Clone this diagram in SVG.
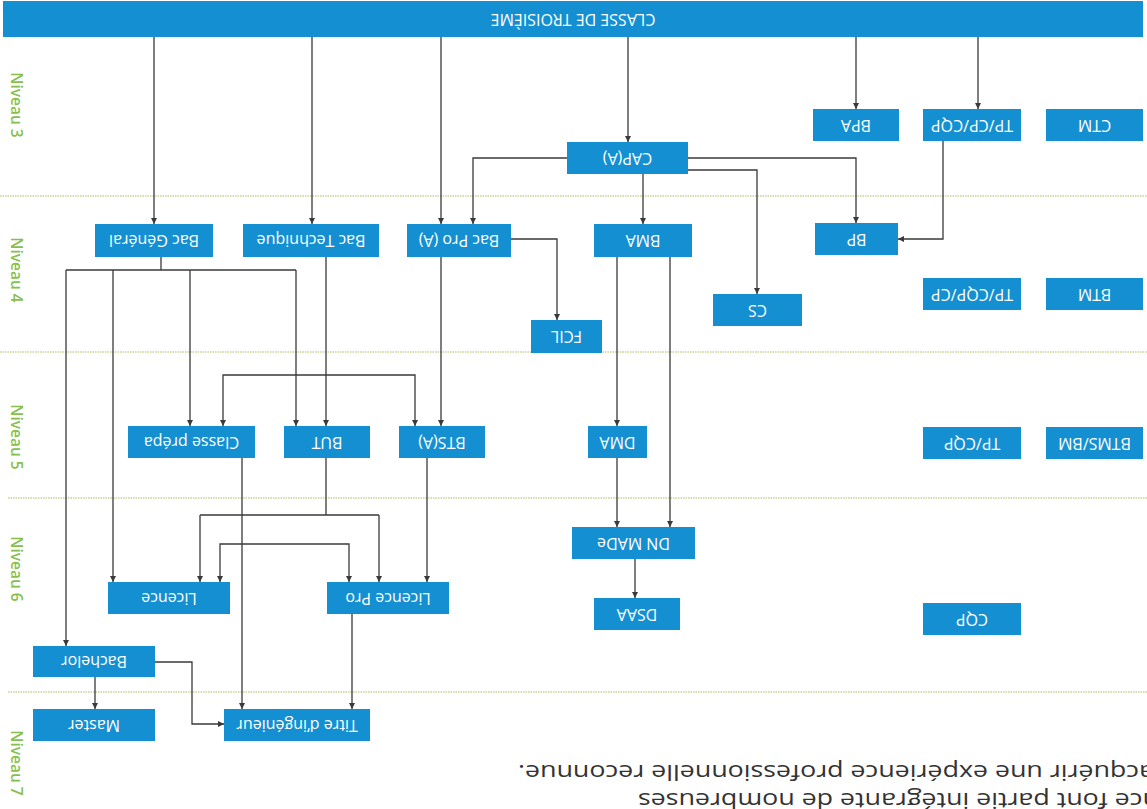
<svg xmlns="http://www.w3.org/2000/svg" width="1147" height="809" viewBox="0 0 1147 809">
<style>
.nd{fill:#1490d2}
.nt{font-family:"Open Sans","Liberation Sans",sans-serif;font-size:16px;fill:#fff;text-anchor:middle}
.lv{font-family:"Open Sans","Liberation Sans",sans-serif;font-size:15.5px;font-weight:600;fill:#86bf4e;text-anchor:middle}
.sep{stroke:#a9bd63;stroke-width:1.2;stroke-dasharray:1.5 1;fill:none}
.c{fill:none;stroke:#3a3a3a;stroke-width:1.3}
.a{marker-end:url(#ar)}
.b{marker-end:url(#ar);marker-start:url(#ar)}
.bt{font-family:"Open Sans","Liberation Sans",sans-serif;font-size:22px;fill:#333;text-anchor:middle}
</style>
<defs>
<marker id="ar" viewBox="0 0 6 6" refX="6" refY="3" markerWidth="6" markerHeight="6" markerUnits="userSpaceOnUse" orient="auto-start-reverse">
<path d="M0,0 L6,3 L0,6 z" fill="#3a3a3a"/>
</marker>
</defs>
<rect width="1147" height="809" fill="#fff"/>
<g id="separators">
<path class="sep" d="M0 196 H1147 M0 352 H1147 M8 498 H1147 M8 692 H1147"/>
</g>
<g id="levels">
<text class="lv" x="16" y="110.5" transform="rotate(90 16 105)">Niveau 3</text>
<text class="lv" x="16" y="275.5" transform="rotate(90 16 270)">Niveau 4</text>
<text class="lv" x="16" y="442.5" transform="rotate(90 16 437)">Niveau 5</text>
<text class="lv" x="16" y="574.5" transform="rotate(90 16 569)">Niveau 6</text>
<text class="lv" x="16" y="768.5" transform="rotate(90 16 763)">Niveau 7</text>
</g>
<g id="connectors">
<path class="c a" d="M154 37 V224"/>
<path class="c a" d="M312 37 V224"/>
<path class="c a" d="M441 37 V224"/>
<path class="c a" d="M628 37 V142"/>
<path class="c a" d="M856 37 V109"/>
<path class="c a" d="M978 37 V109"/>
<path class="c a" d="M567 158 H473 V224"/>
<path class="c a" d="M688 158 H856 V223"/>
<path class="c a" d="M688 170 H757 V294"/>
<path class="c a" d="M643 174 V224"/>
<path class="c a" d="M943 141 V239 H898"/>
<path class="c a" d="M511 239 H557 V320"/>
<path class="c a" d="M441 257 V426"/>
<path class="c a" d="M617 257 V426"/>
<path class="c a" d="M670 257 V527"/>
<path class="c a" d="M617 458 V527"/>
<path class="c a" d="M635 559 V598"/>
<path class="c" d="M161 257 V270 M66 270 H296"/>
<path class="c a" d="M66 270 V646"/>
<path class="c a" d="M113 270 V582"/>
<path class="c a" d="M190 270 V426"/>
<path class="c a" d="M296 270 V426"/>
<path class="c a" d="M326 257 V426"/>
<path class="c b" d="M223 426 V375 H415 V426"/>
<path class="c" d="M326 458 V515 M200 515 H379"/>
<path class="c a" d="M200 515 V582"/>
<path class="c a" d="M379 515 V582"/>
<path class="c a" d="M242 458 V709"/>
<path class="c b" d="M220 582 V544 H349 V582"/>
<path class="c a" d="M427 458 V582"/>
<path class="c a" d="M352 614 V709"/>
<path class="c a" d="M155 662 H192 V724 H224"/>
<path class="c a" d="M95 677 V709"/>
</g>
<g id="n-top"><rect class="nd" x="3" y="1" width="1140" height="36"/><text class="nt" x="573" y="24.5" transform="rotate(180 573 19)">CLASSE DE TROISIÈME</text></g>
<g id="n-bpa"><rect class="nd" x="813" y="109" width="86" height="32"/><text class="nt" x="856" y="130.5" transform="rotate(180 856 125)">BPA</text></g>
<g id="n-tpcpcqp"><rect class="nd" x="923" y="109" width="98" height="32"/><text class="nt" x="972" y="130.5" transform="rotate(180 972 125)">TP/CP/CQP</text></g>
<g id="n-ctm"><rect class="nd" x="1046" y="109" width="97" height="32"/><text class="nt" x="1094.5" y="130.5" transform="rotate(180 1094.5 125)">CTM</text></g>
<g id="n-cap"><rect class="nd" x="567" y="142" width="121" height="32"/><text class="nt" x="627.5" y="163.5" transform="rotate(180 627.5 158)">CAP(A)</text></g>
<g id="n-bacgen"><rect class="nd" x="95" y="224" width="118" height="33"/><text class="nt" x="154" y="246" transform="rotate(180 154 240.5)">Bac Général</text></g>
<g id="n-bactech"><rect class="nd" x="243" y="224" width="136" height="33"/><text class="nt" x="311" y="246" transform="rotate(180 311 240.5)">Bac Technique</text></g>
<g id="n-bacpro"><rect class="nd" x="407" y="224" width="104" height="33"/><text class="nt" x="459" y="246" transform="rotate(180 459 240.5)">Bac Pro (A)</text></g>
<g id="n-bma"><rect class="nd" x="594" y="224" width="98" height="33"/><text class="nt" x="643" y="246" transform="rotate(180 643 240.5)">BMA</text></g>
<g id="n-bp"><rect class="nd" x="815" y="223" width="83" height="32"/><text class="nt" x="856.5" y="244.5" transform="rotate(180 856.5 239)">BP</text></g>
<g id="n-cs"><rect class="nd" x="713" y="294" width="89" height="32"/><text class="nt" x="757.5" y="315.5" transform="rotate(180 757.5 310)">CS</text></g>
<g id="n-fcil"><rect class="nd" x="531" y="320" width="71" height="33"/><text class="nt" x="566.5" y="342" transform="rotate(180 566.5 336.5)">FCIL</text></g>
<g id="n-tpcqpcp"><rect class="nd" x="923" y="278" width="98" height="32"/><text class="nt" x="972" y="299.5" transform="rotate(180 972 294)">TP/CQP/CP</text></g>
<g id="n-btm"><rect class="nd" x="1046" y="278" width="97" height="32"/><text class="nt" x="1094.5" y="299.5" transform="rotate(180 1094.5 294)">BTM</text></g>
<g id="n-prepa"><rect class="nd" x="128" y="426" width="127" height="32"/><text class="nt" x="191.5" y="447.5" transform="rotate(180 191.5 442)">Classe prépa</text></g>
<g id="n-but"><rect class="nd" x="284" y="426" width="86" height="32"/><text class="nt" x="327" y="447.5" transform="rotate(180 327 442)">BUT</text></g>
<g id="n-bts"><rect class="nd" x="399" y="426" width="86" height="32"/><text class="nt" x="442" y="447.5" transform="rotate(180 442 442)">BTS(A)</text></g>
<g id="n-dma"><rect class="nd" x="588" y="426" width="59" height="32"/><text class="nt" x="617.5" y="447.5" transform="rotate(180 617.5 442)">DMA</text></g>
<g id="n-tpcqp"><rect class="nd" x="923" y="427" width="98" height="32"/><text class="nt" x="972" y="448.5" transform="rotate(180 972 443)">TP/CQP</text></g>
<g id="n-btms"><rect class="nd" x="1046" y="427" width="97" height="32"/><text class="nt" x="1094.5" y="448.5" transform="rotate(180 1094.5 443)">BTMS/BM</text></g>
<g id="n-dnmade"><rect class="nd" x="572" y="527" width="123" height="32"/><text class="nt" x="633.5" y="548.5" transform="rotate(180 633.5 543)">DN MADe</text></g>
<g id="n-dsaa"><rect class="nd" x="594" y="598" width="86" height="32"/><text class="nt" x="637" y="619.5" transform="rotate(180 637 614)">DSAA</text></g>
<g id="n-licence"><rect class="nd" x="108" y="582" width="122" height="32"/><text class="nt" x="169" y="603.5" transform="rotate(180 169 598)">Licence</text></g>
<g id="n-licencepro"><rect class="nd" x="327" y="582" width="122" height="32"/><text class="nt" x="388" y="603.5" transform="rotate(180 388 598)">Licence Pro</text></g>
<g id="n-cqp"><rect class="nd" x="923" y="603" width="98" height="32"/><text class="nt" x="972" y="624.5" transform="rotate(180 972 619)">CQP</text></g>
<g id="n-bachelor"><rect class="nd" x="33" y="646" width="122" height="31"/><text class="nt" x="94" y="667" transform="rotate(180 94 661.5)">Bachelor</text></g>
<g id="n-master"><rect class="nd" x="33" y="709" width="122" height="32"/><text class="nt" x="94" y="730.5" transform="rotate(180 94 725)">Master</text></g>
<g id="n-titre"><rect class="nd" x="224" y="709" width="146" height="32"/><text class="nt" x="297" y="730.5" transform="rotate(180 297 725)">Titre d’ingénieur</text></g>
<g id="bottom-text">
<text class="bt" x="836" y="765" textLength="636" lengthAdjust="spacingAndGlyphs" transform="rotate(180 836 765)">acquérir une expérience professionnelle reconnue.</text>
<text class="bt" x="898.5" y="793" textLength="521" lengthAdjust="spacingAndGlyphs" transform="rotate(180 898.5 793)">nce font partie intégrante de nombreuses</text>
</g>
</svg>
